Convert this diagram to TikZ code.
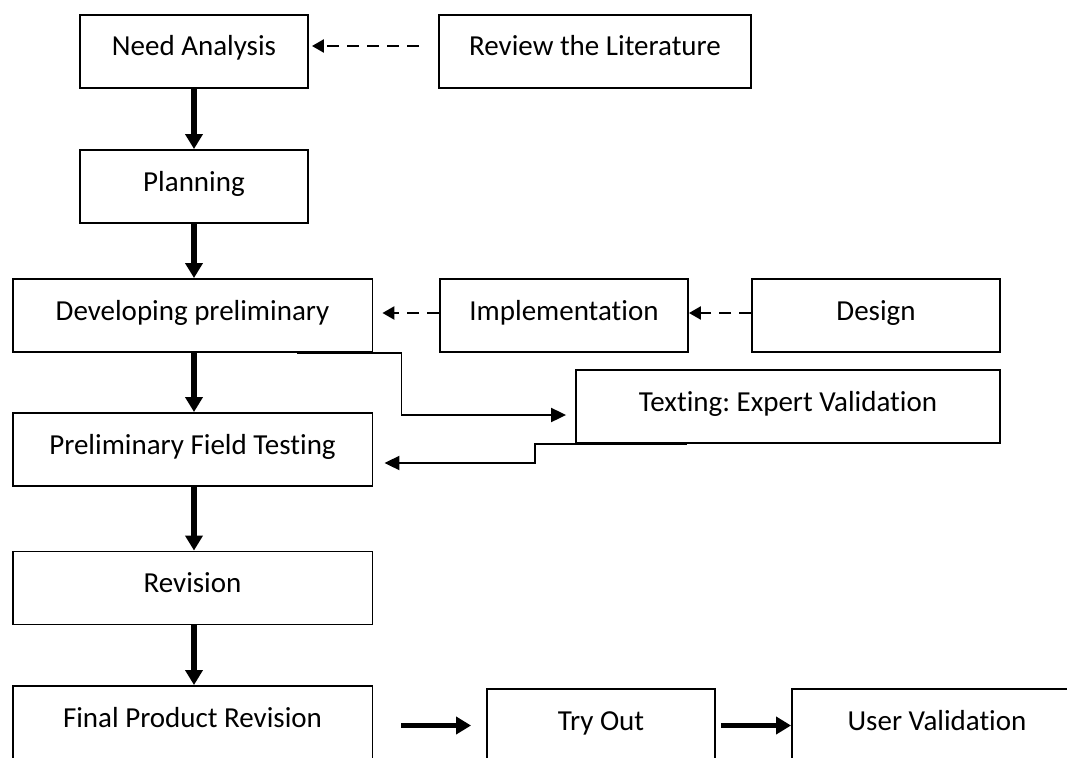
\documentclass[tikz,border=0pt]{standalone}
\usepackage{fontspec}
\setmainfont{Carlito}[Ligatures={NoCommon,NoContextual}]
\usepackage{tikz}
\usetikzlibrary{positioning,arrows.meta}
\frenchspacing

\begin{document}
\begin{tikzpicture}[
    x=0.02cm, y=-0.02cm,
    box/.style={draw, line width=1.1pt, minimum height=1.46cm, inner sep=0pt,
      text height=0.45cm, text depth=0.27cm, font=\fontsize{16.5}{20}\selectfont},
    arr/.style={-{Triangle[length=0.3cm,width=0.34cm]}, line width=3.4pt},
    conn/.style={-{Triangle[length=0.3cm,width=0.28cm]}, line width=1.1pt},
    dasharr/.style={-{Triangle[length=0.24cm,width=0.26cm]}, line width=1.4pt,
      dash pattern=on 0.24cm off 0.16cm}
  ]
    \useasboundingbox (0,0) rectangle (1067,757);
    \clip (0,0) rectangle (1067,757);

    \node[box, minimum width=4.56cm] (need) at (194,51.5) {Need Analysis};
    \node[box, minimum width=6.24cm] (review) at (595,51.5) {Review the Literature};
    \node[box, minimum width=4.56cm] (plan) at (194,186.5) {Planning};
    \node[box, minimum width=7.2cm] (dev) at (192.5,315.5) {Developing preliminary};
    \node[box, minimum width=4.96cm] (impl) at (564,315.5) {Implementation};
    \node[box, minimum width=4.96cm] (design) at (876,315.5) {Design};
    \node[box, minimum width=8.48cm] (texting) at (788,406.5) {Texting: Expert Validation};
    \node[box, minimum width=7.2cm] (prelim) at (192.5,449.5) {Preliminary Field Testing};
    \node[box, minimum width=7.2cm] (revision) at (192.5,588) {Revision};
    \node[box, minimum width=7.2cm] (final) at (192.5,722.5) {Final Product Revision};
    \node[box, minimum width=4.56cm] (tryout) at (601,725.5) {Try Out};
    \node[box, minimum width=5.8cm] (user) at (937,725.5) {User Validation};

    \draw[arr] (need) -- (need |- plan.north);
    \draw[arr] (plan) -- (plan |- dev.north);
    \draw[arr] (plan |- dev.south) -- (plan |- prelim.north);
    \draw[arr] (plan |- prelim.south) -- (plan |- revision.north);
    \draw[arr] (plan |- revision.south) -- (plan |- final.north);

    \draw[dasharr, shorten <=0.38cm, shorten >=0.06cm]
      ([yshift=0.11cm]review.west) -- ([yshift=0.11cm]need.east);
    \draw[dasharr, shorten >=0.18cm] ([yshift=0.05cm]impl.west) -- ([yshift=0.05cm]dev.east);
    \draw[dasharr] ([yshift=0.05cm]design.west) -- ([yshift=0.05cm]impl.east);

    \draw[conn, shorten >=0.18cm] ([xshift=2.1cm]dev.south) -- ++(104,0)
      |- ([yshift=-0.17cm]texting.west);
    \draw[conn, shorten >=0.22cm] ([xshift=-2.02cm]texting.south) -- ++(-152,0)
      |- ([yshift=-0.27cm]prelim.east);

    \draw[arr, shorten <=0.56cm, shorten >=0.3cm] (final.east |- tryout) -- (tryout.west);
    \draw[arr, shorten <=0.1cm] (tryout.east) -- (user.west);
  \end{tikzpicture}
\end{document}
